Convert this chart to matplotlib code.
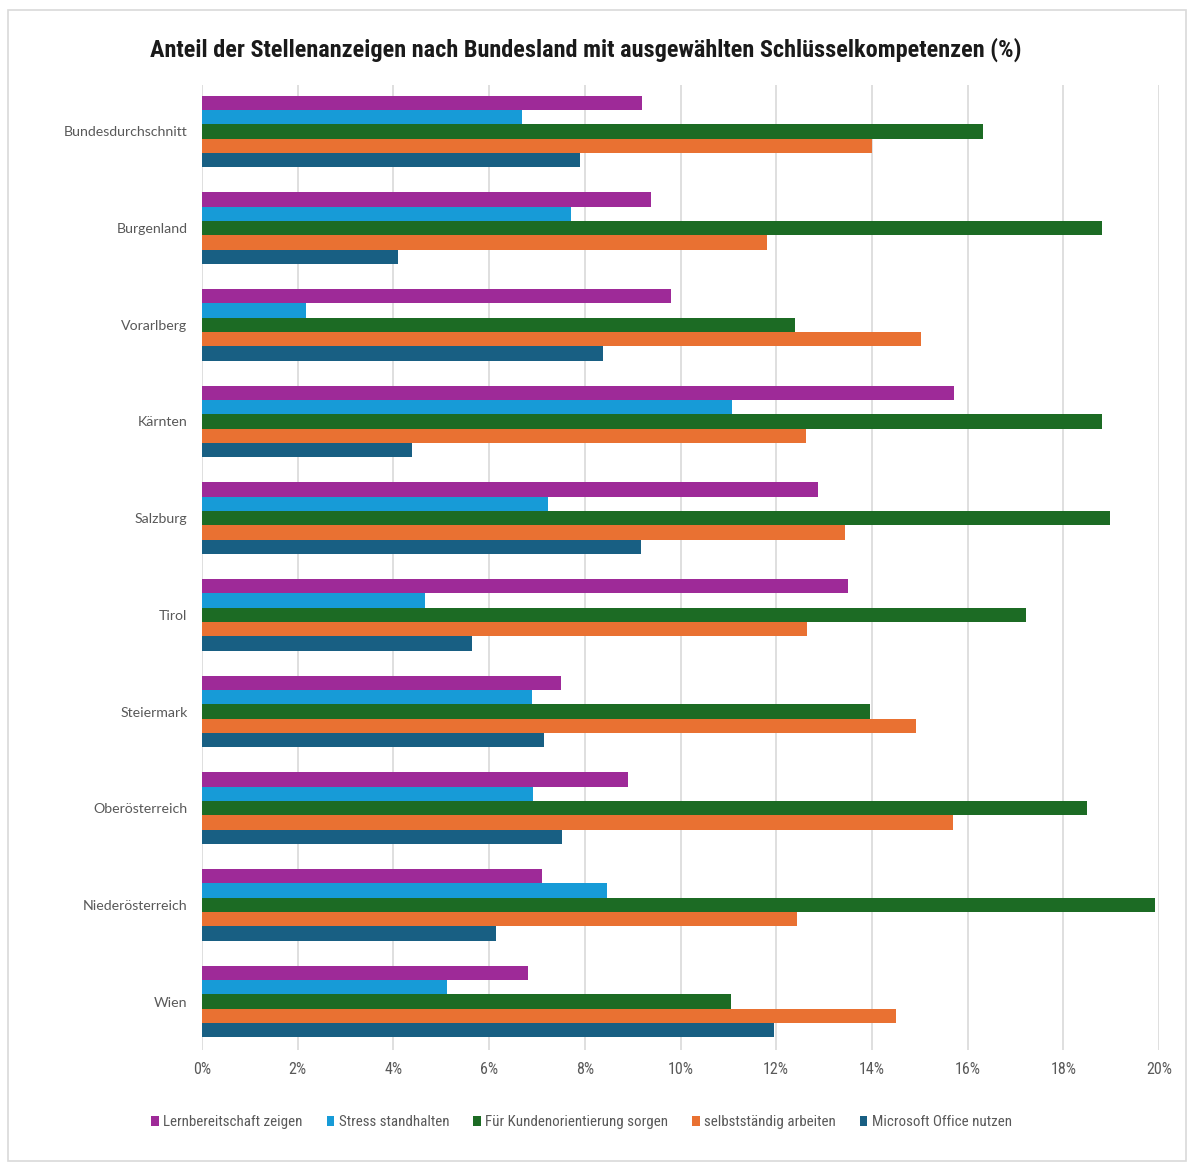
import numpy as np
import matplotlib.pyplot as plt
from matplotlib.ticker import PercentFormatter
from matplotlib.patches import Rectangle

regionen = ["Bundesdurchschnitt", "Burgenland", "Vorarlberg", "Kärnten", "Salzburg",
            "Tirol", "Steiermark", "Oberösterreich", "Niederösterreich", "Wien"]

serien = ["Lernbereitschaft zeigen", "Stress standhalten", "Für Kundenorientierung sorgen",
          "selbstständig arbeiten", "Microsoft Office nutzen"]

lernbereitschaft = [9.2, 9.38, 9.8, 15.72, 12.87, 13.5, 7.5, 8.9, 7.11, 6.81]
stress = [6.69, 7.71, 2.17, 11.08, 7.23, 4.66, 6.9, 6.92, 8.46, 5.12]
kundenorientierung = [16.32, 18.81, 12.39, 18.81, 18.98, 17.22, 13.96, 18.5, 19.92, 11.06]
selbststaendig = [14.0, 11.81, 15.03, 12.62, 13.44, 12.64, 14.92, 15.69, 12.43, 14.5]
office = [7.9, 4.1, 8.38, 4.39, 9.17, 5.64, 7.15, 7.52, 6.14, 11.95]

farben = ["#9E2A98", "#179BD7", "#1C6B24", "#E97132", "#185F83"]

werte = [lernbereitschaft, stress, kundenorientierung, selbststaendig, office]

schmal = ["Liberation Sans Narrow", "Roboto Condensed", "DejaVu Sans"]

fig = plt.figure(figsize=(11.87, 11.64), dpi=100)
# dünner Rahmen ums Diagramm
fig.patches.append(Rectangle((0.007, 0.003), 0.992, 0.988, transform=fig.transFigure,
                             fill=False, edgecolor="#d9d9d9", linewidth=1.2))
ax = fig.add_axes([0.1702, 0.098, 0.8062, 0.829])

y = np.arange(len(regionen))
h = 0.148
for i, (name, vals) in enumerate(zip(serien, werte)):
    ax.barh(y + (i - 2) * h, vals, height=h, color=farben[i], label=name, zorder=3)

ax.set_ylim(9.5, -0.48)
ax.set_xlim(0, 20)
ax.set_xticks(np.arange(0, 21, 2))
ax.xaxis.set_major_formatter(PercentFormatter(decimals=0))
ax.set_yticks(y)
ax.set_yticklabels(regionen, fontsize=10.2, color="#595959", family="Lato")
ax.tick_params(axis="x", labelsize=11.5, labelcolor="#595959", length=0, pad=9)
ax.tick_params(axis="y", length=0, pad=10.5)
for lab in ax.get_xticklabels():
    lab.set_family(schmal)
    lab.set_stretch("condensed")
ax.grid(axis="x", color="#d9d9d9", linewidth=1.2, zorder=0)
for s in ax.spines.values():
    s.set_visible(False)

fig.text(0.4935, 0.957, "Anteil der Stellenanzeigen nach Bundesland mit ausgewählten Schlüsselkompetenzen (%)",
         ha="center", va="center", fontsize=17.5, fontweight="bold", family=schmal,
         stretch="condensed", color="#1a1a1a")

fig.legend(loc="center", bbox_to_anchor=(0.49, 0.036), ncol=5, frameon=False,
           prop={"family": schmal, "size": 10.8, "stretch": "condensed"},
           labelcolor="#595959", handlelength=0.5, handleheight=0.7, handletextpad=0.3,
           columnspacing=1.6)

fig.savefig("out.png", dpi=100, facecolor="white")
